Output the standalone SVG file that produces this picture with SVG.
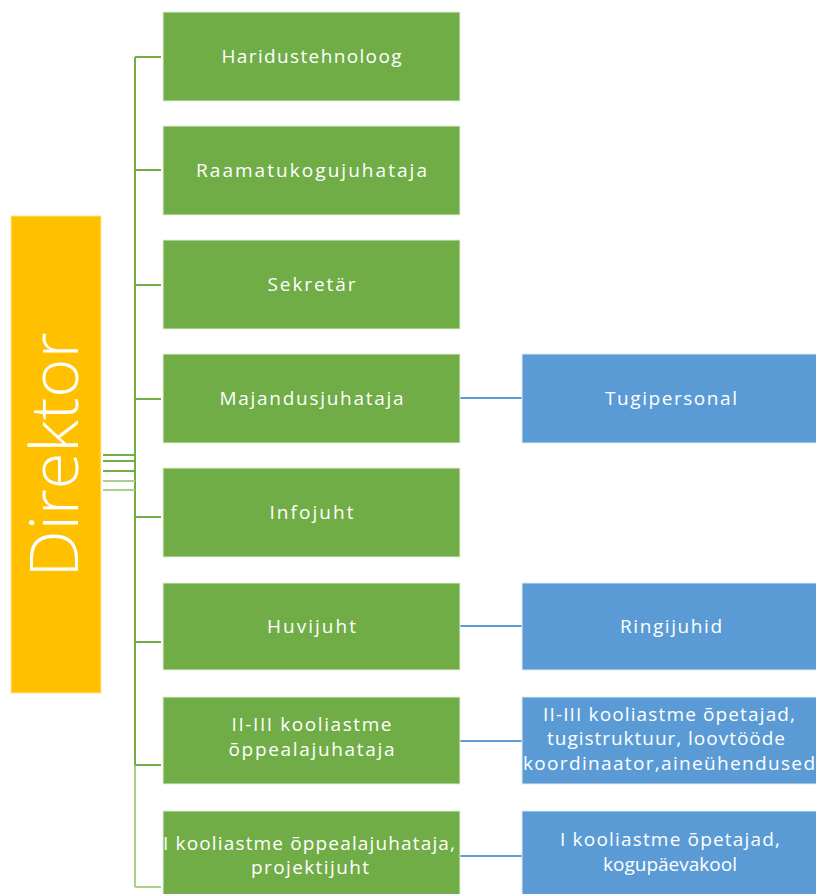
<svg xmlns="http://www.w3.org/2000/svg" width="816" height="894" viewBox="0 0 816 894">
<style>
.g{fill:#70AD47;stroke:#E2EFDA;stroke-width:1}
.b{fill:#5B9BD5;stroke:#DEEBF7;stroke-width:1}
.y{fill:#FFC000;stroke:#FFE699;stroke-width:1}
text{font-family:"Open Sans","Noto Sans","DejaVu Sans",sans-serif;fill:#FFFFFF;font-size:19px;text-anchor:middle}
.gl{stroke:#70AD47;stroke-width:2;fill:none}
.gl2{stroke:#A9D18E;stroke-width:2;fill:none}
.bl{stroke:#5B9BD5;stroke-width:2;fill:none}
</style>
<rect width="816" height="894" fill="#FFFFFF"/>
<g id="connectors">
<path class="gl" d="M135,57 V765"/>
<path class="gl2" d="M135,765 V887"/>
<path class="gl" d="M135,57 H161 M135,170 H161 M135,285 H161 M135,399 H161 M135,517 H161 M135,642 H161 M135,765 H161"/>
<path class="gl2" d="M135,887 H161"/>
<path class="gl" d="M103,455 H135 M103,461 H135 M103,471 H135"/>
<path class="gl2" d="M103,481 H135 M103,490 H135"/>
<path class="bl" d="M460,398 H522 M460,626 H522 M460,741 H522 M460,856 H522"/>
</g>
<g id="direktor">
<rect class="y" x="11" y="216" width="90" height="477"/>
<text transform="translate(78,455) rotate(-90)" style="font-size:66px;font-weight:300" textLength="245" lengthAdjust="spacingAndGlyphs">Direktor</text>
</g>
<g id="haridustehnoloog">
<rect class="g" x="163" y="12" width="297" height="89"/>
<text x="311.5" y="63" textLength="180" lengthAdjust="spacing">Haridustehnoloog</text>
</g>
<g id="raamatukogujuhataja">
<rect class="g" x="163" y="126" width="297" height="89"/>
<text x="311.5" y="177" textLength="231" lengthAdjust="spacing">Raamatukogujuhataja</text>
</g>
<g id="sekretar">
<rect class="g" x="163" y="240" width="297" height="89"/>
<text x="311.5" y="291" textLength="88" lengthAdjust="spacing">Sekretär</text>
</g>
<g id="majandusjuhataja">
<rect class="g" x="163" y="354" width="297" height="89"/>
<text x="311.5" y="405" textLength="184" lengthAdjust="spacing">Majandusjuhataja</text>
</g>
<g id="infojuht">
<rect class="g" x="163" y="468" width="297" height="89"/>
<text x="311.5" y="519" textLength="84" lengthAdjust="spacing">Infojuht</text>
</g>
<g id="huvijuht">
<rect class="g" x="163" y="583" width="297" height="87"/>
<text x="311.5" y="633" textLength="89" lengthAdjust="spacing">Huvijuht</text>
</g>
<g id="oppealajuhataja-2-3">
<rect class="g" x="163" y="697" width="297" height="87"/>
<text x="311.5" y="731" textLength="160" lengthAdjust="spacing">II-III kooliastme</text>
<text x="311.5" y="756" textLength="166" lengthAdjust="spacing">õppealajuhataja</text>
</g>
<g id="oppealajuhataja-1">
<rect class="g" x="163" y="811" width="297" height="89"/>
<text x="309" y="850" textLength="292" lengthAdjust="spacing">I kooliastme õppealajuhataja,</text>
<text x="310" y="874" textLength="118" lengthAdjust="spacing">projektijuht</text>
</g>
<g id="tugipersonal">
<rect class="b" x="522" y="354" width="300" height="89"/>
<text x="671" y="405" textLength="132" lengthAdjust="spacing">Tugipersonal</text>
</g>
<g id="ringijuhid">
<rect class="b" x="522" y="583" width="300" height="87"/>
<text x="671" y="633" textLength="102" lengthAdjust="spacing">Ringijuhid</text>
</g>
<g id="opetajad-2-3">
<rect class="b" x="522" y="697" width="300" height="87"/>
<text x="669" y="721" textLength="252" lengthAdjust="spacing">II-III kooliastme õpetajad,</text>
<text x="666" y="745" textLength="238" lengthAdjust="spacing">tugistruktuur, loovtööde</text>
<text x="669" y="770" textLength="292" lengthAdjust="spacing">koordinaator,aineühendused</text>
</g>
<g id="opetajad-1">
<rect class="b" x="522" y="811" width="300" height="89"/>
<text x="670" y="846" textLength="220" lengthAdjust="spacing">I kooliastme õpetajad,</text>
<text x="670" y="871">kogupäevakool</text>
</g>
</svg>
